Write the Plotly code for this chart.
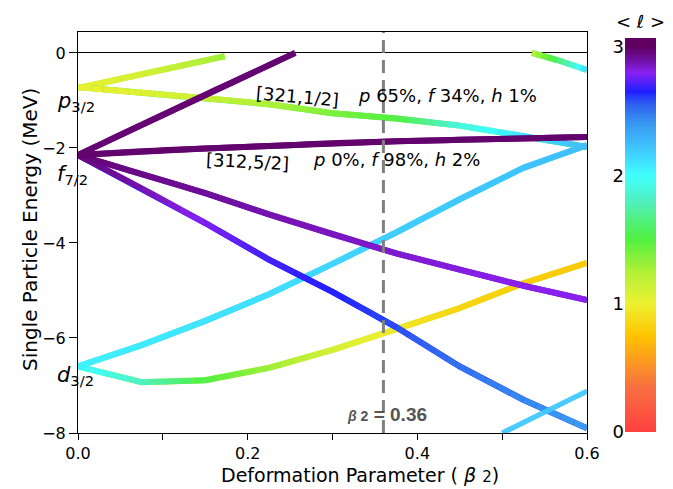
import numpy as np
import plotly.graph_objects as go
from plotly.colors import sample_colorscale

# ---------------- data ----------------
beta_grid = [0.0, 0.075, 0.15, 0.225, 0.3, 0.375, 0.45, 0.525, 0.6]

# d3/2 lower branch
E_d_low = [-6.6, -6.93, -6.89, -6.63, -6.25, -5.82, -5.37, -4.85, -4.42]
L_d_low = [2.05, 1.8, 1.5, 1.3, 1.1, 0.95, 0.85, 0.8, 0.78]
# d3/2 upper branch
E_d_up = [-6.6, -6.15, -5.64, -5.08, -4.44, -3.78, -3.08, -2.42, -1.94]
L_d_up = [2.05, 2.07, 2.1, 2.12, 2.15, 2.18, 2.2, 2.22, 2.25]
# f7/2 steepest down branch
E_f_low = [-2.15, -2.85, -3.58, -4.35, -5.03, -5.77, -6.6, -7.3, -7.9]
L_f_low = [2.96, 2.88, 2.78, 2.7, 2.65, 2.58, 2.5, 2.44, 2.38]
# f7/2 middle down branch
E_f_mid = [-2.15, -2.55, -2.95, -3.4, -3.82, -4.22, -4.56, -4.9, -5.2]
L_f_mid = [2.97, 2.94, 2.91, 2.88, 2.86, 2.84, 2.82, 2.8, 2.8]
# [312,5/2]
E_312 = [-2.15, -2.07, -2.01, -1.96, -1.9, -1.86, -1.83, -1.8, -1.77]
L_312 = [2.98, 2.98, 2.98, 2.98, 2.98, 2.98, 2.98, 2.98, 2.98]
# [321,1/2]
E_321 = [-0.72, -0.84, -0.95, -1.08, -1.27, -1.38, -1.53, -1.75, -1.98]
L_321 = [1.0, 1.05, 1.15, 1.25, 1.38, 1.5, 1.9, 2.1, 2.25]
# f7/2 up-going branch (ends at the continuum)
beta_f_up = [0.0, 0.075, 0.15, 0.225, 0.256]
E_f_up = [-2.15, -1.51, -0.88, -0.26, 0.0]
L_f_up = [2.97, 2.97, 2.97, 2.97, 2.97]
# p3/2 up-going branch
beta_p_up = [0.0, 0.075, 0.15, 0.173]
E_p_up = [-0.74, -0.45, -0.16, -0.07]
L_p_up = [1.0, 1.1, 1.25, 1.32]
# level entering from the continuum at large deformation
beta_top_r = [0.535, 0.565, 0.6]
E_top_r = [0.0, -0.15, -0.36]
L_top_r = [1.2, 1.6, 2.15]
# level entering from below
beta_bot_r = [0.5, 0.6]
E_bot_r = [-8.0, -7.12]
L_bot_r = [2.2, 2.2]

# spherical labels
sph_labels = ["p", "f", "d"]
sph_sub = ["3/2", "7/2", "3/2"]
sph_E = [-1.03, -2.57, -6.8]

x_ticks = [0.0, 0.2, 0.4, 0.6]
x_ticktext = ["0.0", "0.2", "0.4", "0.6"]
x_minor = [0.1, 0.3, 0.5]
y_ticks = [0, -2, -4, -6, -8]
cb_ticks = [0, 1, 2, 3]
beta_mark = 0.36

# ---------------- colour scale for <l> ----------------
LMAX = 3.07
stops = [(0.0, (255, 64, 64)), (0.35, (248, 112, 64)), (0.75, (255, 196, 0)),
         (1.0, (236, 240, 48)), (1.25, (176, 240, 56)), (1.5, (80, 240, 64)),
         (1.8, (80, 240, 192)), (2.0, (64, 255, 255)), (2.2, (64, 200, 255)),
         (2.4, (56, 152, 240)), (2.55, (48, 96, 240)), (2.65, (32, 32, 255)),
         (2.8, (138, 32, 240)), (2.9, (112, 16, 160)), (3.0, (96, 0, 96)),
         (3.07, (96, 0, 96))]
cscale = [[v / LMAX, "rgb(%d,%d,%d)" % c] for v, c in stops]


def lcolor(v):
    return sample_colorscale(cscale, [min(max(v / LMAX, 0), 1)])[0]


FONT = "DejaVu Sans"
fig = go.Figure()


def add_level(bx, ey, lv, width=6, opacity=1.0, nsub=5):
    # base polyline (hides seams between the gradient pieces)
    fig.add_trace(go.Scatter(x=bx, y=ey, mode="lines",
                             line=dict(color=lcolor(sum(lv) / len(lv)), width=width),
                             opacity=opacity, showlegend=False, hoverinfo="skip"))
    for i in range(len(bx) - 1):
        for k in range(nsub):
            t0, t1 = k / nsub, (k + 1) / nsub
            tm = (t0 + t1) / 2
            xs = [bx[i] + (bx[i + 1] - bx[i]) * t0, bx[i] + (bx[i + 1] - bx[i]) * t1]
            ys = [ey[i] + (ey[i + 1] - ey[i]) * t0, ey[i] + (ey[i + 1] - ey[i]) * t1]
            lm = lv[i] + (lv[i + 1] - lv[i]) * tm
            fig.add_trace(go.Scatter(x=xs, y=ys, mode="lines",
                                     line=dict(color=lcolor(lm), width=width),
                                     opacity=opacity, showlegend=False,
                                     hoverinfo="skip"))


add_level(beta_grid, E_d_low, L_d_low)
add_level(beta_grid, E_d_up, L_d_up)
add_level(beta_grid, E_f_low, L_f_low)
add_level(beta_grid, E_f_mid, L_f_mid)
add_level(beta_p_up, E_p_up, L_p_up)
add_level(beta_grid, E_321, L_321)
add_level(beta_f_up, E_f_up, L_f_up)
add_level(beta_grid, E_312, L_312)
add_level(beta_top_r, E_top_r, L_top_r)
add_level(beta_bot_r, E_bot_r, L_bot_r, width=5, opacity=0.75)

# colour bar drawn as a one-column heatmap so the labels sit on its left
ramp = np.linspace(0, LMAX, 308)
fig.add_trace(go.Heatmap(x=[0], y=ramp, z=[[v] for v in ramp], colorscale=cscale,
                         zmin=0, zmax=LMAX, showscale=False, xaxis="x2", yaxis="y2",
                         hoverinfo="skip"))

fig.add_shape(type="line", x0=beta_mark, x1=beta_mark, y0=-8, y1=0.44,
              xref="x", yref="y", layer="above",
              line=dict(color="#808080", width=3, dash="13px,7px"))

C = dict(xanchor="center", yanchor="middle", showarrow=False)
ann = []
for lab, sub, e in zip(sph_labels, sph_sub, sph_E):
    ann.append(dict(x=(55 - 78) / 582, y=e, xref="paper", yref="y",
                    xanchor="left", yanchor="middle",
                    text="<i>%s</i><sub>%s</sub>" % (lab, sub), showarrow=False,
                    font=dict(family=FONT, size=21, color="black")))

ann += [
    dict(x=0.259, y=-0.91, xref="x", yref="y", text="[321,1/2]", textangle=5,
         font=dict(family=FONT, size=18, color="black"), **C),
    dict(x=0.435, y=-0.89, xref="x", yref="y",
         text="<i>p</i> 65%, <i>f</i> 34%, <i>h</i> 1%",
         font=dict(family=FONT, size=18, color="black"), **C),
    dict(x=0.2, y=-2.29, xref="x", yref="y", text="[312,5/2]", textangle=3,
         font=dict(family=FONT, size=18, color="black"), **C),
    dict(x=0.375, y=-2.25, xref="x", yref="y",
         text="<i>p</i> 0%, <i>f</i> 98%, <i>h</i> 2%",
         font=dict(family=FONT, size=18, color="black"), **C),
    dict(x=0.364, y=-7.6, xref="x", yref="y",
         text="<b><span style='font-size:14px'><i>β</i> 2</span> = 0.36</b>",
         font=dict(family="Liberation Sans", size=19, color="#555555"), **C),
    dict(x=(360 - 78) / 582, y=(433 - 475) / 401, xref="paper", yref="paper",
         text="Deformation Parameter ( <i>β</i> <span style='font-size:15px'>2</span>)",
         font=dict(family=FONT, size=19, color="black"), **C),
    dict(x=(30 - 78) / 582, y=(433 - 230) / 401, xref="paper", yref="paper",
         text="Single Particle Energy (MeV)", textangle=-90,
         font=dict(family=FONT, size=20, color="black"), **C),
    dict(x=(640 - 78) / 582, y=(433 - 21) / 401, xref="paper", yref="paper",
         text="< <i>ℓ</i> >", font=dict(family=FONT, size=18, color="black"), **C),
]

fig.update_layout(
    width=673, height=489, autosize=False,
    margin=dict(l=78, r=13, t=32, b=56, pad=0),
    paper_bgcolor="white", plot_bgcolor="white",
    font=dict(family=FONT, size=16, color="black"),
    annotations=ann,
    xaxis=dict(domain=[0, 509 / 582], range=[0, 0.6], tickvals=x_ticks,
               ticktext=x_ticktext, ticks="outside", ticklen=6, tickcolor="black",
               minor=dict(tickvals=x_minor, ticks="outside", ticklen=6,
                          tickcolor="black", showgrid=False),
               showline=True, linecolor="black", linewidth=1, mirror=True,
               showgrid=False, zeroline=False, tickfont=dict(size=16),
               automargin=False),
    yaxis=dict(range=[-8, 0.44], tickvals=y_ticks, ticks="outside", ticklen=8,
               tickcolor="black", showline=True, linecolor="black", linewidth=1,
               mirror=True, showgrid=False, zeroline=True, zerolinecolor="black",
               zerolinewidth=1, tickfont=dict(size=16), automargin=False),
    xaxis2=dict(domain=[(625 - 78) / 582, (656 - 78) / 582], anchor="y2",
                range=[-0.5, 0.5], visible=False, automargin=False),
    yaxis2=dict(domain=[(433 - 432) / 401, (433 - 38) / 401], anchor="x2",
                range=[0, LMAX], tickvals=cb_ticks, side="left", ticks="",
                showline=False, showgrid=False, zeroline=False,
                tickfont=dict(size=18), automargin=False),
)

fig.write_html("out.html", config={"displayModeBar": False},
               post_script="document.body.style.margin='0px';"
                           "document.body.style.overflow='hidden';")
